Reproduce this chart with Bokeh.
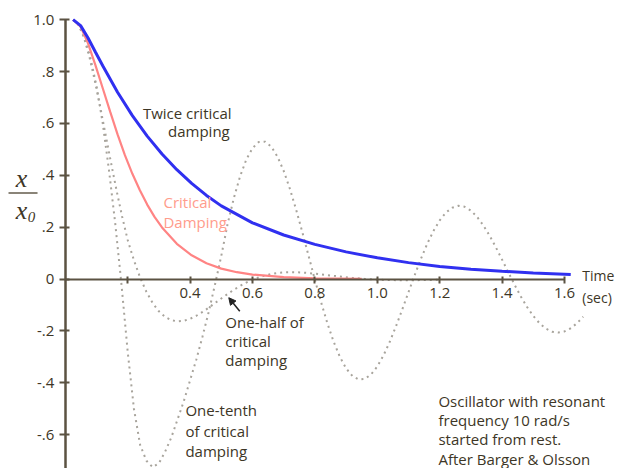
from bokeh.plotting import figure
from bokeh.models import Range1d, LinearAxis, FixedTicker, Arrow, NormalHead
from bokeh.core.properties import value
from bokeh.embed import file_html
from bokeh.resources import INLINE

# ---- data ----
crit_t = [0.025, 0.049, 0.0725, 0.096, 0.12, 0.144, 0.1675, 0.191, 0.215, 0.239, 0.2625,
          0.286, 0.31, 0.3575, 0.405, 0.4525, 0.5, 0.55, 0.6, 0.7, 0.8, 0.95]
crit_v = [1.0, 0.9735, 0.9098, 0.8266, 0.7358, 0.6446, 0.5578, 0.4779, 0.4060, 0.3425, 0.2873,
          0.2397, 0.1991, 0.1359, 0.0916, 0.0611, 0.0404, 0.0266, 0.0174, 0.0073, 0.0030, 0.0008]

twice_t = [0.025, 0.049, 0.0725, 0.096, 0.12, 0.1675, 0.215, 0.2625, 0.31, 0.3575, 0.405,
           0.4525, 0.5, 0.6, 0.7, 0.8, 0.9, 1.0, 1.1, 1.2, 1.3, 1.4, 1.5, 1.62]
twice_v = [1.0, 0.9771, 0.9303, 0.8765, 0.8223, 0.7205, 0.6304, 0.5513, 0.4822, 0.4218, 0.3689,
           0.3226, 0.2822, 0.2170, 0.1700, 0.1340, 0.1050, 0.0820, 0.0635, 0.0490, 0.0380,
           0.0300, 0.0240, 0.0180]

half_t = [0.025, 0.0425, 0.06, 0.0775, 0.095, 0.1125, 0.13, 0.1475, 0.165, 0.1825,
          0.20, 0.22, 0.24, 0.26, 0.28, 0.30, 0.32, 0.34, 0.36, 0.38, 0.40, 0.42, 0.44,
          0.46, 0.48, 0.50, 0.52, 0.54, 0.56, 0.58, 0.60, 0.62, 0.64, 0.66, 0.68, 0.70,
          0.72, 0.74, 0.76, 0.78, 0.80, 0.84, 0.88, 0.92, 0.96, 1.00, 1.04, 1.08, 1.12,
          1.16, 1.20]
half_v = [1.0, 0.9813, 0.9306, 0.8554, 0.7630, 0.6597, 0.5513, 0.4427, 0.3377, 0.2396,
          0.1506, 0.0723, 0.0056, -0.0493, -0.0924, -0.1243, -0.1460, -0.1585, -0.1630,
          -0.1607, -0.1531, -0.1413, -0.1266, -0.1099, -0.0923, -0.0746, -0.0574, -0.0412,
          -0.0265, -0.0134, -0.0023, 0.0069, 0.0142, 0.0197, 0.0234, 0.0256, 0.0265, 0.0263,
          0.0252, 0.0233, 0.0210, 0.0155, 0.0097, 0.0046, 0.0006, -0.0022, -0.0037, -0.0043,
          -0.0041, -0.0035, -0.0026]

tenth_t = [0.025, 0.04, 0.06, 0.08, 0.10, 0.12, 0.14, 0.16, 0.18, 0.20, 0.22, 0.24, 0.26,
           0.28, 0.30, 0.32, 0.34, 0.36, 0.38, 0.40, 0.42, 0.44, 0.46, 0.48, 0.50, 0.52,
           0.54, 0.56, 0.58, 0.60, 0.62, 0.64, 0.66, 0.68, 0.70, 0.72, 0.74, 0.76, 0.78,
           0.80, 0.82, 0.84, 0.86, 0.88, 0.90, 0.92, 0.94, 0.96, 0.98, 1.00, 1.02, 1.04,
           1.06, 1.08, 1.10, 1.12, 1.14, 1.16, 1.18, 1.20, 1.22, 1.24, 1.26, 1.28, 1.30,
           1.32, 1.34, 1.36, 1.38, 1.40, 1.42, 1.44, 1.46, 1.48, 1.50, 1.52, 1.54, 1.56,
           1.58, 1.60, 1.62, 1.64, 1.66]
tenth_v = [1.0, 0.985, 0.935, 0.855, 0.745, 0.600, 0.420, 0.215, -0.02, -0.28, -0.50, -0.64,
           -0.70, -0.725, -0.71, -0.665, -0.61, -0.54, -0.47, -0.39, -0.31, -0.22, -0.125,
           -0.02, 0.09, 0.2113, 0.3113, 0.3953, 0.4605, 0.5051, 0.5283, 0.5299, 0.5107,
           0.4724, 0.4170, 0.3476, 0.2673, 0.1796, 0.0885, -0.0026, -0.0900, -0.1705,
           -0.2411, -0.2996, -0.3440, -0.3733, -0.3868, -0.3847, -0.3676, -0.3368, -0.2941,
           -0.2416, -0.1816, -0.1170, -0.0503, 0.0158, 0.0787, 0.1360, 0.1857, 0.2263,
           0.2564, 0.2753, 0.2827, 0.2788, 0.2641, 0.2397, 0.2069, 0.1672, 0.1226, 0.0750,
           0.0263, -0.0216, -0.0667, -0.1074, -0.1423, -0.1703, -0.1906, -0.2026, -0.2062,
           -0.2016, -0.1894, -0.1702, -0.1451]

x_ticks = [0.2, 0.4, 0.6, 0.8, 1.0, 1.2, 1.4, 1.6]
x_tick_labels = ["", "0.4", "0.6", "0.8", "1.0", "1.2", "1.4", "1.6"]
y_ticks = [-0.6, -0.4, -0.2, 0.0, 0.2, 0.4, 0.6, 0.8, 1.0]
y_tick_labels = ["-.6", "-.4", "-.2", "0", ".2", ".4", ".6", ".8", "1.0"]

TXT = "#3d3626"
AXC = "#5b5242"
FONT = value("Open Sans")
FS = "15px"

p = figure(width=619, height=468, x_range=Range1d(-0.2077, 1.7763),
           y_range=Range1d(-0.7301, 1.0740), output_backend="svg",
           toolbar_location=None, min_border=0, x_axis_type=None, y_axis_type=None)
p.outline_line_color = None
p.background_fill_color = "white"
p.border_fill_color = "white"

xaxis = LinearAxis(fixed_location=0, ticker=FixedTicker(ticks=x_ticks), bounds=(0, 1.6))
xaxis.major_label_overrides = {t: l for t, l in zip(x_ticks, x_tick_labels)}
xaxis.axis_line_color = AXC
xaxis.axis_line_width = 2
xaxis.major_tick_line_color = AXC
xaxis.major_tick_line_width = 2
xaxis.major_tick_in = 3
xaxis.major_tick_out = 4
xaxis.minor_tick_line_color = None
xaxis.major_label_standoff = 5
xaxis.major_label_text_font = "Open Sans"
xaxis.major_label_text_font_size = "15px"
xaxis.major_label_text_color = TXT
p.add_layout(xaxis, "below")

yaxis = LinearAxis(fixed_location=0, ticker=FixedTicker(ticks=y_ticks), bounds=(-0.73, 1.0))
yaxis.major_label_overrides = {t: l for t, l in zip(y_ticks, y_tick_labels)}
yaxis.axis_line_color = AXC
yaxis.axis_line_width = 2.5
yaxis.major_tick_line_color = AXC
yaxis.major_tick_line_width = 2
yaxis.major_tick_in = 4
yaxis.major_tick_out = 6
yaxis.minor_tick_line_color = None
yaxis.major_label_standoff = 5
yaxis.major_label_text_font = "Open Sans"
yaxis.major_label_text_font_size = "15px"
yaxis.major_label_text_color = TXT
p.add_layout(yaxis, "left")

DOT = "#a8a49c"
p.line(tenth_t, tenth_v, line_color=DOT, line_width=2, line_dash="2 4")
p.line(half_t, half_v, line_color=DOT, line_width=2, line_dash="2 4")
p.line(crit_t, crit_v, line_color="#ff8484", line_width=2.2)
p.line(twice_t, twice_v, line_color="#3030f0", line_width=3)

# annotations
p.text(x=[0.533, 0.527], y=[0.642, 0.572], text=["Twice critical", "damping"],
       text_align="right", text_baseline="middle", text_font=FONT,
       text_font_size=FS, text_color=TXT)
p.text(x=[0.3147, 0.3147], y=[0.297, 0.220], text=["Critical", "Damping"],
       text_align="left", text_baseline="middle", text_font=FONT,
       text_font_size=FS, text_color="#ff9c8c")
p.text(x=[0.513] * 3, y=[-0.167, -0.240, -0.313], text=["One-half of", "critical", "damping"],
       text_align="left", text_baseline="middle", text_font=FONT,
       text_font_size=FS, text_color=TXT)
p.text(x=[0.385] * 3, y=[-0.506, -0.584, -0.661], text=["One-tenth", "of critical", "damping"],
       text_align="left", text_baseline="middle", text_font=FONT,
       text_font_size=FS, text_color=TXT)
p.text(x=[1.196] * 4, y=[-0.468, -0.543, -0.618, -0.693],
       text=["Oscillator with resonant", "frequency 10 rad/s", "started from rest.",
             "After Barger & Olsson"],
       text_align="left", text_baseline="middle", text_font=FONT,
       text_font_size=FS, text_color=TXT)
p.text(x=[1.657, 1.657], y=[0.014, -0.070], text=["Time", "(sec)"],
       text_align="left", text_baseline="middle", text_font=FONT,
       text_font_size="14px", text_color=TXT)

# y label x / x0
p.text(x=[-0.1404], y=[0.388], text=["x"], text_align="center", text_baseline="middle",
       text_font=value("Liberation Serif"), text_font_style="italic",
       text_font_size="26px", text_color=TXT)
p.text(x=[-0.1404], y=[0.2645], text=["x"], text_align="center", text_baseline="middle",
       text_font=value("Liberation Serif"), text_font_style="italic",
       text_font_size="26px", text_color=TXT)
p.text(x=[-0.1083], y=[0.2375], text=["0"], text_align="center", text_baseline="middle",
       text_font=value("Liberation Serif"), text_font_style="italic",
       text_font_size="15px", text_color=TXT)
p.segment(x0=[-0.182], y0=[0.332], x1=[-0.089], y1=[0.332], line_color="#8a8478", line_width=2)

p.add_layout(Arrow(end=NormalHead(size=7, fill_color="#222222", line_color="#222222"),
                   x_start=0.5593, y_start=-0.124, x_end=0.5240, y_end=-0.0717,
                   line_color="#222222", line_width=1.5))

open("out.html", "w").write(file_html(p, INLINE))
